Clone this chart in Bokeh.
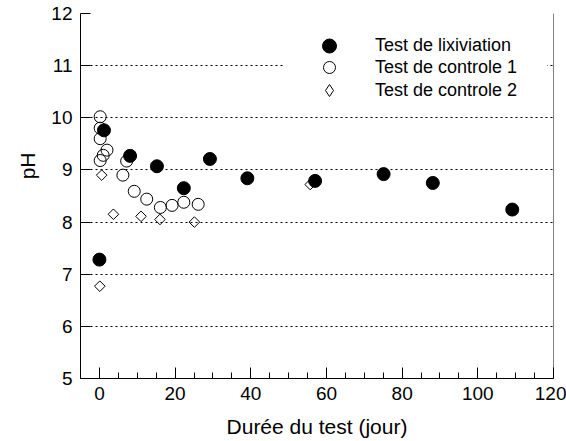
import numpy as np
from bokeh.plotting import figure
from bokeh.models import (ColumnDataSource, SingleIntervalTicker, Span, Title,
                          Legend, LegendItem)
from bokeh.embed import file_html
from bokeh.resources import INLINE

# ---- data ----
lix_x = [0, 1.2, 8.1, 15.2, 22.3, 29.2, 39.1, 57.0, 75.1, 88.1, 109.1]
lix_y = [7.28, 9.76, 9.27, 9.07, 8.65, 9.21, 8.84, 8.79, 8.92, 8.75, 8.24]

ctrl1_x = [0.2, 0.2, 0.2, 0.2, 1.0, 2.0, 6.2, 7.2, 9.2, 12.5, 16.1, 19.2, 22.3, 26.1]
ctrl1_y = [10.02, 9.80, 9.60, 9.18, 9.28, 9.38, 8.90, 9.17, 8.59, 8.44, 8.28, 8.32, 8.38, 8.34]

ctrl2_x = [0.1, 0.6, 3.7, 11.0, 16.0, 25.1, 55.7]
ctrl2_y = [6.77, 8.90, 8.15, 8.11, 8.05, 8.00, 8.72]

series_names = ["Test de lixiviation", "Test de controle 1", "Test de controle 2"]
x_title = "Durée du test (jour)"
y_title = "pH"

FONT = "Liberation Sans"

p = figure(width=566, height=441, x_range=(-5, 120), y_range=(5, 12),
           output_backend="svg", toolbar_location=None,
           min_border_left=80, min_border_right=13, min_border_top=13,
           min_border_bottom=63)
p.outline_line_color = None
p.background_fill_color = "white"

# axes
p.xaxis.ticker = SingleIntervalTicker(interval=20, num_minor_ticks=4)
p.yaxis.ticker = SingleIntervalTicker(interval=1, num_minor_ticks=0)
for ax in (p.xaxis[0], p.yaxis[0]):
    ax.axis_line_color = "black"
    ax.axis_line_width = 1
    ax.major_tick_line_color = "black"
    ax.major_tick_in = 11
    ax.major_tick_out = 0
    ax.minor_tick_in = 6
    ax.minor_tick_out = 0
    ax.major_label_text_font = FONT
    ax.major_label_text_font_size = "19px"
    ax.major_label_text_color = "black"
p.xaxis.major_label_standoff = 8
p.yaxis.major_label_standoff = 8
p.yaxis.minor_tick_line_color = None
p.yaxis.major_tick_in = 10

p.xaxis.axis_label = x_title
p.xaxis.axis_label_text_font = FONT
p.xaxis.axis_label_text_font_size = "21px"
p.xaxis.axis_label_text_font_style = "normal"
p.xaxis.axis_label_text_color = "black"
p.xaxis.axis_label_standoff = 12

p.xgrid.visible = False
p.ygrid.grid_line_color = "black"
p.ygrid.grid_line_dash = "2 3"
p.ygrid.grid_line_width = 1

p.add_layout(Span(location=120, dimension="height", line_color="black", line_width=1))

# y title as a side title, placed from the top of the frame like the reference
p.add_layout(Title(text=y_title, align="right", offset=139, standoff=20,
                   text_font=FONT, text_font_size="21px",
                   text_font_style="normal", text_color="black"), "left")

# glyphs
s2 = ColumnDataSource(dict(x=ctrl2_x, y=ctrl2_y))
s1 = ColumnDataSource(dict(x=ctrl1_x, y=ctrl1_y))
s0 = ColumnDataSource(dict(x=lix_x, y=lix_y))

r2 = p.scatter("x", "y", source=s2, marker="square", size=7.5, angle=np.pi / 4,
               fill_color=None, line_color="black", line_width=1)
r1 = p.scatter("x", "y", source=s1, marker="circle", size=12,
               fill_color=None, line_color="black", line_width=1)
r0 = p.scatter("x", "y", source=s0, marker="circle", size=13,
               fill_color="black", line_color="black", line_width=1)
# legend proxy for the diamond symbol (legend markers are not rotated); NaN -> not drawn in plot
r2_leg = p.scatter(x=[np.nan], y=[np.nan], marker="diamond", size=12,
                   fill_color=None, line_color="black", line_width=1)

# legends (one per entry so that each marker gets its own size)
def make_legend(name, renderer, gh, bottom, alpha):
    return Legend(items=[LegendItem(label=name, renderers=[renderer])],
                  location=(203, bottom), padding=0, margin=0, spacing=0,
                  glyph_width=92, glyph_height=gh, label_standoff=0,
                  label_width=172, label_height=gh,
                  label_text_font=FONT, label_text_font_size="18px",
                  label_text_color="black",
                  border_line_color=None, background_fill_color="white",
                  background_fill_alpha=alpha)

p.add_layout(make_legend(series_names[1], r1, 30, 296, 1.0))
p.add_layout(make_legend(series_names[0], r0, 35, 315.5, 0.0))
p.add_layout(make_legend(series_names[2], r2_leg, 30, 273, 0.0))

open("out.html", "w").write(file_html(p, INLINE))
